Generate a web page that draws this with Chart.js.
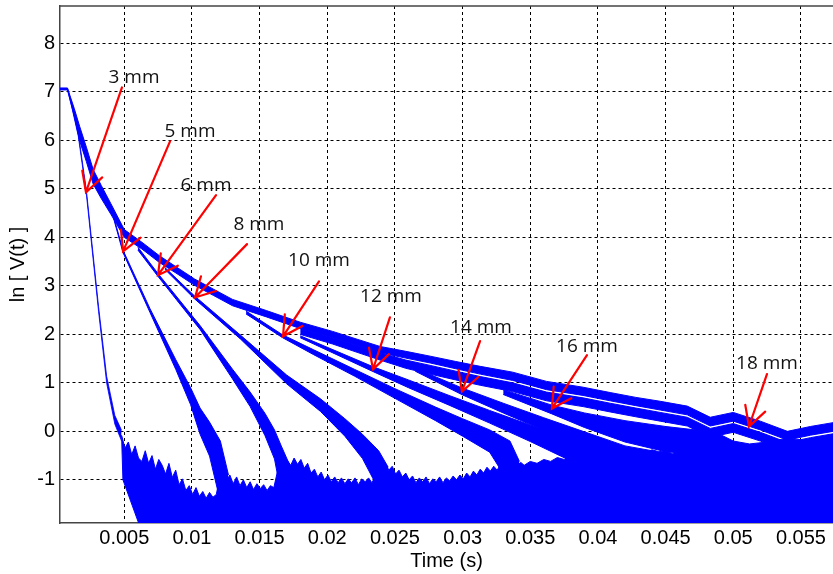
<!DOCTYPE html>
<html>
<head>
<meta charset="utf-8">
<script src="https://cdn.jsdelivr.net/npm/chart.js@4.4.1/dist/chart.umd.min.js"></script>
<style>
  html, body { margin: 0; padding: 0; background: #fff; }
  #wrap { width: 833px; height: 574px; position: relative; }
</style>
</head>
<body>
<div id="wrap"><canvas id="decayChart"></canvas></div>
<script>
// axis ticks
const xTicks = [0.005, 0.01, 0.015, 0.02, 0.025, 0.03, 0.035, 0.04, 0.045, 0.05, 0.055];
const xTickLabels = ['0.005', '0.01', '0.015', '0.02', '0.025', '0.03', '0.035', '0.04', '0.045', '0.05', '0.055'];
const yTicks = [-1, 0, 1, 2, 3, 4, 5, 6, 7, 8];

// slowest trace, upper and lower edge of its noisy band
const topX  = [0.0002, 0.0008, 0.0013, 0.0017, 0.0022, 0.0027, 0.0033, 0.0040, 0.0050, 0.0063, 0.0076, 0.0089, 0.0102, 0.0116, 0.0130, 0.0155, 0.0180, 0.0204, 0.0222, 0.0239, 0.0258, 0.0276, 0.0295, 0.0313, 0.0337, 0.0362, 0.0389, 0.0409, 0.0428, 0.0446, 0.0466, 0.0483, 0.0500, 0.0520, 0.0540, 0.0557, 0.0576];
const topHi = [7.08, 7.08, 6.66, 6.29, 5.86, 5.40, 5.07, 4.70, 4.16, 3.90, 3.62, 3.38, 3.14, 2.93, 2.72, 2.49, 2.25, 2.06, 1.90, 1.75, 1.65, 1.55, 1.44, 1.34, 1.22, 1.03, 0.91, 0.80, 0.70, 0.62, 0.52, 0.29, 0.39, 0.21, 0.00, 0.10, 0.19];
const topLo = [7.04, 7.04, 6.50, 5.99, 5.56, 5.10, 4.80, 4.48, 4.00, 3.76, 3.48, 3.25, 3.01, 2.80, 2.59, 2.36, 2.12, 1.93, 1.77, 1.62, 1.51, 1.41, 1.29, 1.18, 1.05, 0.86, 0.74, 0.63, 0.53, 0.44, 0.34, 0.11, 0.21, 0.03, -0.18, -0.08, 0.01];

// 18 mm
const c18X  = [0.0180, 0.0204, 0.0222, 0.0239, 0.0258, 0.0276, 0.0295, 0.0313, 0.0337, 0.0362, 0.0389, 0.0409, 0.0428, 0.0446, 0.0466, 0.0483, 0.0500, 0.0520, 0.0540, 0.0557, 0.0576];
const c18Hi = [2.12, 1.93, 1.77, 1.62, 1.47, 1.36, 1.24, 1.13, 1.00, 0.81, 0.69, 0.58, 0.48, 0.39, 0.29, 0.06, 0.16, -0.02, -0.23, -0.13, -0.04];
const c18Lo = [2.00, 1.80, 1.63, 1.47, 1.30, 1.18, 1.06, 0.95, 0.82, 0.63, 0.51, 0.40, 0.30, 0.21, 0.11, -0.12, -0.02, -0.20, -0.41, -0.31, -0.22];

// 16 mm
const c16X  = [0.0330, 0.0366, 0.0390, 0.0420, 0.0450, 0.0475, 0.0490, 0.0500, 0.0512, 0.0525, 0.0540, 0.0558, 0.0576];
const c16Hi = [0.86, 0.54, 0.38, 0.22, 0.10, 0.02, -0.06, -0.20, -0.26, -0.22, -0.14, -0.20, -0.16];
const c16Lo = [0.76, 0.36, 0.08, -0.22, -0.42, -0.48, -0.50, -0.52, -0.56, -0.58, -0.58, -0.60, -0.60];

// 14 mm
const c14X  = [0.0265, 0.0300, 0.0330, 0.0360, 0.0390, 0.0420, 0.0440];
const c14Hi = [1.30, 0.89, 0.58, 0.28, -0.01, -0.30, -0.40];
const c14Lo = [1.24, 0.75, 0.38, 0.02, -0.37, -0.74, -0.90];

// 12 mm
const c12X  = [0.0180, 0.0234, 0.0260, 0.0290, 0.0320, 0.0350, 0.0380, 0.0400, 0.0407];
const c12Hi = [1.97, 1.33, 1.06, 0.74, 0.43, 0.13, -0.16, -0.36, -0.55];
const c12Lo = [1.93, 1.23, 0.90, 0.54, 0.17, -0.21, -0.61, -1.00, -1.00];

// 10 mm
const c10X  = [0.0140, 0.0167, 0.0190, 0.0220, 0.0250, 0.0280, 0.0300, 0.0320, 0.0335, 0.0342];
const c10Hi = [2.48, 1.99, 1.68, 1.28, 0.88, 0.50, 0.26, 0.03, -0.20, -0.62];
const c10Lo = [2.42, 1.93, 1.58, 1.14, 0.68, 0.22, -0.10, -0.43, -1.10, -1.10];

// 8 mm
const c8X  = [0.0080, 0.0102, 0.0136, 0.0170, 0.0195, 0.0213, 0.0226, 0.0238, 0.0245];
const c8Hi = [3.38, 2.79, 1.98, 1.16, 0.67, 0.26, -0.06, -0.40, -0.74];
const c8Lo = [3.34, 2.73, 1.90, 0.98, 0.41, -0.10, -0.56, -1.20, -1.20];

// 6 mm
const c6X  = [0.0060, 0.0075, 0.0106, 0.0130, 0.0143, 0.0154, 0.0161, 0.0166, 0.0172];
const c6Hi = [3.80, 3.25, 2.18, 1.28, 0.81, 0.37, 0.03, -0.30, -0.68];
const c6Lo = [3.74, 3.19, 2.10, 1.08, 0.51, -0.09, -0.57, -1.30, -1.30];

// 5 mm
const c5X  = [0.0042, 0.0049, 0.0069, 0.0088, 0.0099, 0.0106, 0.0113, 0.0121, 0.0127];
const c5Hi = [4.44, 3.74, 2.53, 1.48, 0.90, 0.48, 0.19, -0.20, -0.90];
const c5Lo = [4.40, 3.69, 2.45, 1.28, 0.55, -0.06, -0.51, -1.45, -1.45];

// 3 mm
const c3X  = [0.0008, 0.0011, 0.0016, 0.0022, 0.0031, 0.0037, 0.0043, 0.0048];
const c3Hi = [7.08, 6.77, 6.15, 4.97, 2.57, 1.13, 0.33, 0.02];
const c3Lo = [7.06, 6.71, 6.09, 4.89, 2.47, 0.99, 0.15, -0.20];

// noise floor, top edge
const floorX = [
  0.00480, 0.00505, 0.00530, 0.00555, 0.00580, 0.00605, 0.00630, 0.00655, 0.00680, 0.00705,
  0.00730, 0.00755, 0.00780, 0.00805, 0.00830, 0.00855, 0.00880, 0.00905, 0.00930, 0.00955,
  0.00980, 0.01005, 0.01030, 0.01055, 0.01080, 0.01105, 0.01130, 0.01155, 0.01180,
  0.01205, 0.01230, 0.01255, 0.01280, 0.01305, 0.01330, 0.01355, 0.01380, 0.01405, 0.01430,
  0.01455, 0.01480, 0.01505, 0.01530, 0.01555, 0.01580, 0.01605,
  0.01630, 0.01655, 0.01680, 0.01705, 0.01730, 0.01755, 0.01780, 0.01805, 0.01830, 0.01855,
  0.01880, 0.01905, 0.01930, 0.01955, 0.01980, 0.02005, 0.02030, 0.02055, 0.02080, 0.02105,
  0.02130, 0.02155, 0.02180, 0.02205, 0.02230, 0.02255, 0.02280, 0.02305, 0.02330, 0.02355, 0.02380,
  0.02405, 0.02430, 0.02455, 0.02480, 0.02505, 0.02530, 0.02555, 0.02580, 0.02605, 0.02630,
  0.02655, 0.02680, 0.02705, 0.02730, 0.02755, 0.02780, 0.02805, 0.02830, 0.02855, 0.02880,
  0.02905, 0.02930, 0.02955, 0.02980, 0.03005, 0.03030, 0.03055, 0.03080, 0.03105, 0.03130, 0.03155,
  0.03180, 0.03205, 0.03230, 0.03255, 0.03280, 0.03305, 0.03330, 0.03355, 0.03380, 0.03405, 0.03430, 0.03455,
  0.0350, 0.0355, 0.0360, 0.0365, 0.0370, 0.0375, 0.0380, 0.0385, 0.0390, 0.0395,
  0.0400, 0.0405, 0.0410, 0.0415, 0.0420, 0.0425, 0.0430, 0.0435, 0.0440, 0.0445,
  0.0450, 0.0455, 0.0460, 0.0465, 0.0470, 0.0475, 0.0480, 0.0485, 0.0490, 0.0495,
  0.0500, 0.0505, 0.0510, 0.0515, 0.0520, 0.0525, 0.0530, 0.0535, 0.0540, 0.0545,
  0.0550, 0.0555, 0.0560, 0.0565, 0.0570, 0.0575
];
const floorTop = [
  -0.08, -0.35, -0.22, -0.48, -0.30, -0.55, -0.62, -0.40, -0.66, -0.50,
  -0.78, -0.58, -0.70, -0.88, -0.66, -0.95, -0.80, -1.10, -0.98, -1.22,
  -1.12, -1.30, -1.16, -1.34, -1.24, -1.38, -1.26, -1.36, -1.30,
  -0.95, -0.82, -1.02, -0.90, -1.08, -0.94, -1.12, -1.00, -1.16, -1.04,
  -1.20, -1.08, -1.18, -1.10, -1.22, -1.12, -1.16,
  -0.85, -0.72, -0.78, -0.60, -0.70, -0.55, -0.68, -0.58, -0.76, -0.66,
  -0.86, -0.78, -0.94, -0.84, -1.00, -0.90, -1.04, -0.94, -1.06, -0.96,
  -1.08, -0.98, -1.06, -0.96, -1.10, -0.98, -1.04, -0.96, -1.06, -0.92, -0.84,
  -0.74, -0.66, -0.80, -0.72, -0.88, -0.80, -0.94, -0.86, -1.00, -0.92,
  -1.06, -0.96, -1.04, -0.94, -1.08, -0.98, -1.04, -0.94, -1.06, -0.96,
  -1.02, -0.92, -1.00, -0.90, -0.98, -0.86, -0.94, -0.82, -0.90, -0.78, -0.86,
  -0.74, -0.82, -0.72, -0.80, -0.68, -0.76, -0.66, -0.72, -0.62, -0.70, -0.64, -0.70,
  -0.62, -0.66, -0.58, -0.62, -0.54, -0.58, -0.50, -0.54, -0.48, -0.52,
  -0.46, -0.50, -0.44, -0.48, -0.42, -0.46, -0.40, -0.44, -0.38, -0.42,
  -0.40, -0.46, -0.40, -0.44, -0.38, -0.42, -0.36, -0.40, -0.34, -0.38,
  -0.32, -0.36, -0.30, -0.34, -0.30, -0.36, -0.30, -0.34, -0.28, -0.32,
  -0.26, -0.30, -0.26, -0.30, -0.24, -0.28
];
// lower edge of the floor (its slanted left side, then below the axis)
const floorBaseX = [0.0048, 0.0049, 0.0062, 0.0580];
const floorBaseY = [-0.10, -1.00, -2.00, -2.00];

// arrow annotations
const noteText  = ['3 mm', '5 mm', '6 mm', '8 mm', '10 mm', '12 mm', '14 mm', '16 mm', '18 mm'];
const noteTipX  = [0.00217, 0.00491, 0.00749, 0.01023, 0.01673, 0.02338, 0.02995, 0.03660, 0.05116];
const noteTipY  = [4.93, 3.71, 3.22, 2.76, 1.96, 1.28, 0.82, 0.47, 0.10];
const noteTailX = [0.00483, 0.00838, 0.01178, 0.01407, 0.01939, 0.02463, 0.03129, 0.03919, 0.05249];
const noteTailY = [7.09, 5.98, 4.87, 3.86, 3.09, 2.35, 1.86, 1.57, 1.18];
const noteLabelX = [0.00572, 0.00986, 0.01104, 0.01495, 0.01939, 0.02471, 0.03136, 0.03919, 0.05249];
const noteLabelY = [7.30, 6.19, 5.07, 4.27, 3.53, 2.78, 2.14, 1.75, 1.40];

const BLUE = '#0000ff';

function pts(xs, ys) {
  return xs.map((x, i) => ({ x: x, y: ys[i] }));
}

// a trace is drawn as its noisy band: upper edge filled down to the lower edge
function band(name, xs, hi, lo, w) {
  const bw = w || 1;
  return [
    { label: name, data: pts(xs, hi), fill: '+1', backgroundColor: BLUE, borderColor: BLUE, borderWidth: bw },
    { label: name + ' lo', data: pts(xs, lo), fill: false, borderColor: BLUE, borderWidth: bw }
  ];
}

const datasets = [].concat(
  [
    { label: 'floor', data: pts(floorX, floorTop), fill: '+1', backgroundColor: BLUE, borderColor: BLUE, borderWidth: 1 },
    { label: 'floor base', data: pts(floorBaseX, floorBaseY), fill: false, borderColor: BLUE, borderWidth: 1 }
  ],
  band('3 mm', c3X, c3Hi, c3Lo, 0.8),
  band('5 mm', c5X, c5Hi, c5Lo),
  band('6 mm', c6X, c6Hi, c6Lo),
  band('8 mm', c8X, c8Hi, c8Lo),
  band('10 mm', c10X, c10Hi, c10Lo),
  band('12 mm', c12X, c12Hi, c12Lo),
  band('14 mm', c14X, c14Hi, c14Lo),
  band('16 mm', c16X, c16Hi, c16Lo),
  band('18 mm', c18X, c18Hi, c18Lo),
  band('top', topX, topHi, topLo)
);

const arrowNotes = {
  id: 'arrowNotes',
  afterDatasetsDraw(chart) {
    const ctx = chart.ctx;
    const xs = chart.scales.x, ys = chart.scales.y;
    ctx.save();
    ctx.strokeStyle = '#ff0000';
    ctx.lineWidth = 2.2;
    ctx.lineCap = 'round';
    for (let i = 0; i < noteText.length; i++) {
      const tx = xs.getPixelForValue(noteTipX[i]), ty = ys.getPixelForValue(noteTipY[i]);
      const sx = xs.getPixelForValue(noteTailX[i]), sy = ys.getPixelForValue(noteTailY[i]);
      const ang = Math.atan2(sy - ty, sx - tx);
      const head = 22, spread = 0.5;
      ctx.beginPath();
      ctx.moveTo(sx, sy);
      ctx.lineTo(tx, ty);
      ctx.moveTo(tx + head * Math.cos(ang - spread), ty + head * Math.sin(ang - spread));
      ctx.lineTo(tx, ty);
      ctx.lineTo(tx + head * Math.cos(ang + spread), ty + head * Math.sin(ang + spread));
      ctx.stroke();
    }
    ctx.fillStyle = '#111';
    ctx.font = '19px "Open Sans"';
    ctx.textAlign = 'center';
    ctx.textBaseline = 'middle';
    for (let i = 0; i < noteText.length; i++) {
      ctx.fillText(noteText[i], xs.getPixelForValue(noteLabelX[i]), ys.getPixelForValue(noteLabelY[i]));
    }
    ctx.restore();
  }
};

// box line along the top of the plot
const topFrame = {
  id: 'topFrame',
  afterDraw(chart) {
    const { ctx, chartArea } = chart;
    ctx.save();
    ctx.strokeStyle = '#444';
    ctx.lineWidth = 1.5;
    ctx.beginPath();
    ctx.moveTo(chartArea.left, chartArea.top);
    ctx.lineTo(chartArea.right, chartArea.top);
    ctx.stroke();
    ctx.restore();
  }
};

const tickFont = { family: 'Liberation Sans', size: 20 };

new Chart(document.getElementById('decayChart').getContext('2d'), {
  type: 'line',
  data: { datasets: datasets },
  plugins: [arrowNotes, topFrame],
  options: {
    responsive: true,
    maintainAspectRatio: false,
    animation: false,
    layout: { padding: { top: 6, right: 0, left: 0, bottom: 0 } },
    elements: { point: { radius: 0 }, line: { tension: 0 } },
    plugins: { legend: { display: false }, tooltip: { enabled: false } },
    scales: {
      x: {
        type: 'linear',
        min: 0.00025,
        max: 0.05737,
        afterBuildTicks: s => { s.ticks = xTicks.map(v => ({ value: v })); },
        afterFit: s => { s.height = 51; s.paddingLeft = 0; s.paddingRight = 0; },
        ticks: {
          autoSkip: false, maxRotation: 0, padding: 3,
          color: '#000', font: tickFont,
          callback: (v, i) => xTickLabels[i]
        },
        grid: { color: '#000', lineWidth: 1, drawTicks: false },
        border: { color: '#444', width: 1.5, dash: [3, 3] },
        title: { display: true, text: 'Time (s)', color: '#000', font: tickFont, padding: { top: 0, bottom: 1 } }
      },
      y: {
        type: 'linear',
        min: -1.89,
        max: 8.77,
        afterBuildTicks: s => { s.ticks = yTicks.map(v => ({ value: v })); },
        afterFit: s => { s.width = 60; s.paddingTop = 0; s.paddingBottom = 0; },
        ticks: { color: '#000', font: tickFont, padding: 5, callback: v => String(v) },
        grid: { color: '#000', lineWidth: 1, drawTicks: false },
        border: { color: '#444', width: 1.5, dash: [3, 3] },
        title: { display: true, text: 'ln [ V(t) ]', color: '#000', font: tickFont, padding: { top: 6, bottom: 0 } }
      }
    }
  }
});
</script>
</body>
</html>
